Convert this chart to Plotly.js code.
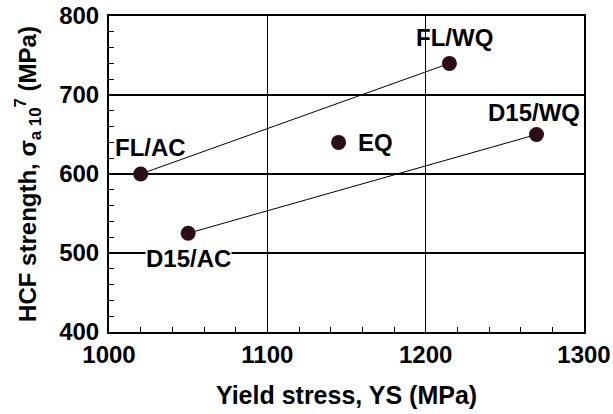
<!DOCTYPE html>
<html>
<head>
<meta charset="utf-8">
<script src="https://cdn.plot.ly/plotly-3.0.1.min.js"></script>
<style>html,body{margin:0;padding:0;background:#fff;}#chart{width:613px;height:414px;}</style>
</head>
<body>
<div id="chart"></div>
<script>
// Data
const labels = ["FL/AC", "FL/WQ", "D15/AC", "D15/WQ", "EQ"];
const yieldStress = [1020, 1215, 1050, 1270, 1145];
const hcfStrength = [600, 740, 525, 650, 640];
const flLine = ["FL/AC", "FL/WQ"];
const d15Line = ["D15/AC", "D15/WQ"];
const xTickVals = [1000, 1100, 1200, 1300];
const xTickText = ["1000", "1100", "1200", "1300"];
const yTickVals = [400, 500, 600, 700, 800];
const yTickText = ["400", "500", "600", "700", "800"];

const idx = n => labels.indexOf(n);
const FONT = "Liberation Sans";
const markerColor = "#2a0d18";
const bold = s => "<b>" + s + "</b>";

function lineTrace(names) {
  return {
    x: names.map(n => yieldStress[idx(n)]),
    y: names.map(n => hcfStrength[idx(n)]),
    mode: "lines", type: "scatter",
    line: {color: "#000", width: 1},
    hoverinfo: "skip", showlegend: false
  };
}

const traces = [
  lineTrace(flLine),
  lineTrace(d15Line),
  {
    x: yieldStress, y: hcfStrength, mode: "markers", type: "scatter",
    marker: {color: markerColor, size: 15},
    showlegend: false
  }
];

// label placement (pixel offsets from each point)
const offsets = {
  "FL/AC": [10, 27, false],
  "FL/WQ": [5, 26, false],
  "D15/AC": [0, -25, true],
  "D15/WQ": [-3, 22, false],
  "EQ": [37, 0, false]
};

const annotations = labels.map((n, i) => ({
  x: yieldStress[i], y: hcfStrength[i], xref: "x", yref: "y",
  text: bold(n), showarrow: false,
  xshift: offsets[n][0], yshift: offsets[n][1],
  bgcolor: offsets[n][2] ? "#fff" : "rgba(0,0,0,0)",
  borderpad: 0,
  font: {family: FONT, size: 24, color: "#000"}
}));

const axisCommon = {
  showline: true, mirror: true, linecolor: "#000", linewidth: 2,
  showgrid: true, gridcolor: "#000", gridwidth: 1.3,
  zeroline: false,
  tickmode: "array",
  ticks: "inside", ticklen: 0, tickcolor: "#000",
  tickfont: {family: FONT, size: 24, color: "#000", weight: 700},
  minor: {ticks: "inside", ticklen: 5, tickwidth: 1, tickcolor: "#000", dtick: 20, tick0: 0, showgrid: false}
};

const layout = {
  width: 613, height: 414,
  margin: {l: 109, r: 29, t: 16, b: 82},
  paper_bgcolor: "#fff", plot_bgcolor: "#fff",
  font: {family: FONT, color: "#000"},
  xaxis: Object.assign({}, axisCommon, {
    range: [1000, 1300],
    tickvals: xTickVals, ticktext: xTickText,
    title: {text: bold("Yield stress, YS (MPa)"), font: {family: FONT, size: 25, color: "#000"}, standoff: 20}
  }),
  yaxis: Object.assign({}, axisCommon, {
    range: [400, 800],
    tickvals: yTickVals, ticktext: yTickText,
    ticklabelstandoff: 3,
    title: {text: bold("HCF strength, σ<sub>a 10</sub><sup>7</sup> (MPa)"), font: {family: FONT, size: 24, color: "#000"}, standoff: 16}
  }),
  annotations: annotations
};

Plotly.newPlot("chart", traces, layout, {displayModeBar: false, staticPlot: true});
</script>
</body>
</html>
